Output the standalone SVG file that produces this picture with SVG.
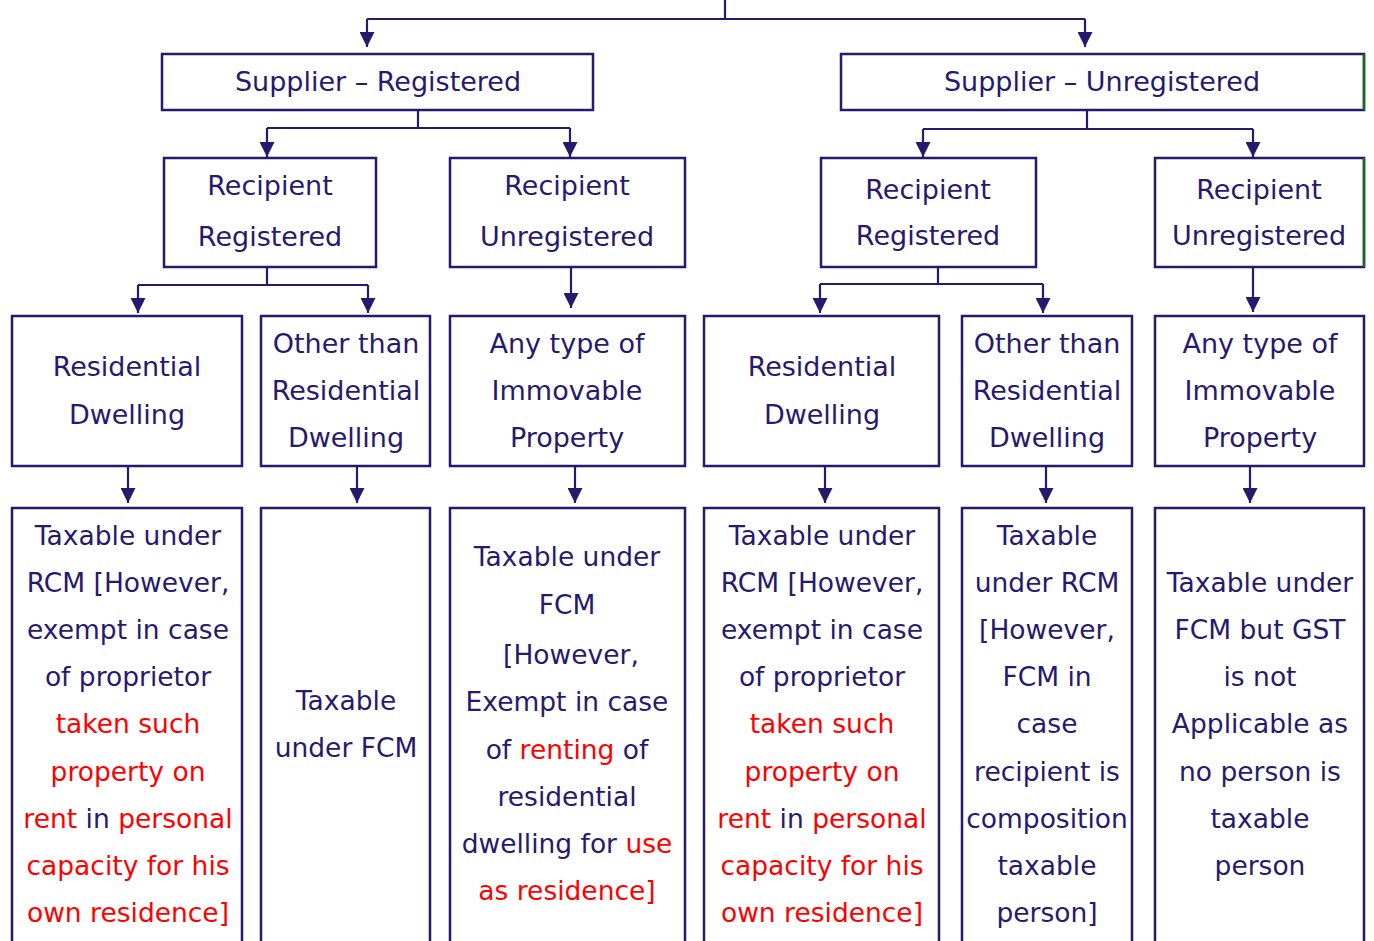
<svg xmlns="http://www.w3.org/2000/svg" width="1374" height="941" viewBox="0 0 1374 941">
<style>
.box{fill:#ffffff;stroke:#271a6e;stroke-width:2.5}
.ln{fill:none;stroke:#271a6e;stroke-width:2.2}
.t{font-family:"DejaVu Sans","Liberation Sans",sans-serif;font-size:27px;fill:#271a6e;text-anchor:middle}
.b{font-family:"DejaVu Sans","Liberation Sans",sans-serif;font-size:26.5px;fill:#271a6e;text-anchor:middle}
.r{fill:#ff0000}
.g{stroke:#1a6b1a;stroke-width:2.5}
</style>
<defs>
<marker id="ah" markerUnits="userSpaceOnUse" markerWidth="15" markerHeight="15" viewBox="0 0 15 15" refX="15" refY="7.5" orient="auto">
<path d="M0,0 L15,7.5 L0,15 z" fill="#271a6e"/>
</marker>
</defs>
<rect width="1374" height="941" fill="#ffffff"/>
<g id="connectors">
<path class="ln" d="M725,0 V19 M367,19 H1085"/>
<path class="ln" d="M367,19 V47" marker-end="url(#ah)"/>
<path class="ln" d="M1085,19 V47" marker-end="url(#ah)"/>
<path class="ln" d="M418,110 V128 M267,128 H570"/>
<path class="ln" d="M267,128 V157" marker-end="url(#ah)"/>
<path class="ln" d="M570,128 V157" marker-end="url(#ah)"/>
<path class="ln" d="M1087,110 V129 M923,129 H1253"/>
<path class="ln" d="M923,129 V157" marker-end="url(#ah)"/>
<path class="ln" d="M1253,129 V157" marker-end="url(#ah)"/>
<path class="ln" d="M267,267 V285 M138,285 H368"/>
<path class="ln" d="M138,285 V313" marker-end="url(#ah)"/>
<path class="ln" d="M368,285 V313" marker-end="url(#ah)"/>
<path class="ln" d="M571,267 V308" marker-end="url(#ah)"/>
<path class="ln" d="M938,267 V284 M820,284 H1043"/>
<path class="ln" d="M820,284 V313" marker-end="url(#ah)"/>
<path class="ln" d="M1043,284 V313" marker-end="url(#ah)"/>
<path class="ln" d="M1253,267 V312" marker-end="url(#ah)"/>
<path class="ln" d="M128,467 V503" marker-end="url(#ah)"/>
<path class="ln" d="M357,467 V503" marker-end="url(#ah)"/>
<path class="ln" d="M575,467 V503" marker-end="url(#ah)"/>
<path class="ln" d="M825,467 V503" marker-end="url(#ah)"/>
<path class="ln" d="M1046,467 V503" marker-end="url(#ah)"/>
<path class="ln" d="M1250,467 V503" marker-end="url(#ah)"/>
</g>
<g id="supplier-registered">
<rect class="box" x="162" y="54" width="431" height="56"/>
<text class="t" x="378" y="91">Supplier – Registered</text>
</g>
<g id="supplier-unregistered">
<rect class="box" x="841" y="54" width="523" height="56"/>
<line class="g" x1="1364" y1="54" x2="1364" y2="110"/>
<text class="t" x="1102" y="91">Supplier – Unregistered</text>
</g>
<g id="sr-recipient-registered">
<rect class="box" x="164" y="158" width="212" height="109"/>
<text class="t" x="270" y="195">Recipient</text>
<text class="t" x="270" y="246">Registered</text>
</g>
<g id="sr-recipient-unregistered">
<rect class="box" x="450" y="158" width="235" height="109"/>
<text class="t" x="567" y="195">Recipient</text>
<text class="t" x="567" y="246">Unregistered</text>
</g>
<g id="su-recipient-registered">
<rect class="box" x="821" y="158" width="215" height="109"/>
<text class="t" x="928" y="199">Recipient</text>
<text class="t" x="928" y="245">Registered</text>
</g>
<g id="su-recipient-unregistered">
<rect class="box" x="1155" y="158" width="209" height="109"/>
<line class="g" x1="1364" y1="158" x2="1364" y2="267"/>
<text class="t" x="1259" y="199">Recipient</text>
<text class="t" x="1259" y="245">Unregistered</text>
</g>
<g id="sr-rr-residential">
<rect class="box" x="12" y="316" width="230" height="150"/>
<text class="t" x="127" y="376">Residential</text>
<text class="t" x="127" y="424">Dwelling</text>
</g>
<g id="sr-rr-other">
<rect class="box" x="261" y="316" width="169" height="150"/>
<text class="t" x="346" y="353">Other than</text>
<text class="t" x="346" y="400">Residential</text>
<text class="t" x="346" y="447">Dwelling</text>
</g>
<g id="sr-ru-any">
<rect class="box" x="450" y="316" width="235" height="150"/>
<text class="t" x="567" y="353">Any type of</text>
<text class="t" x="567" y="400">Immovable</text>
<text class="t" x="567" y="447">Property</text>
</g>
<g id="su-rr-residential">
<rect class="box" x="704" y="316" width="235" height="150"/>
<text class="t" x="822" y="376">Residential</text>
<text class="t" x="822" y="424">Dwelling</text>
</g>
<g id="su-rr-other">
<rect class="box" x="962" y="316" width="170" height="150"/>
<text class="t" x="1047" y="353">Other than</text>
<text class="t" x="1047" y="400">Residential</text>
<text class="t" x="1047" y="447">Dwelling</text>
</g>
<g id="su-ru-any">
<rect class="box" x="1155" y="316" width="209" height="150"/>
<text class="t" x="1260" y="353">Any type of</text>
<text class="t" x="1260" y="400">Immovable</text>
<text class="t" x="1260" y="447">Property</text>
</g>
<g id="result-1">
<rect class="box" x="12" y="508" width="230" height="460"/>
<text class="b" x="128" y="545">Taxable under</text>
<text class="b" x="128" y="592">RCM [However,</text>
<text class="b" x="128" y="639">exempt in case</text>
<text class="b" x="128" y="686">of proprietor</text>
<text class="b r" x="128" y="733">taken such</text>
<text class="b r" x="128" y="781">property on</text>
<text class="b" x="128" y="828"><tspan class="r">rent</tspan> in <tspan class="r">personal</tspan></text>
<text class="b r" x="128" y="875">capacity for his</text>
<text class="b r" x="128" y="922">own residence]</text>
</g>
<g id="result-2">
<rect class="box" x="261" y="508" width="169" height="460"/>
<text class="b" x="346" y="710">Taxable</text>
<text class="b" x="346" y="757">under FCM</text>
</g>
<g id="result-3">
<rect class="box" x="450" y="508" width="235" height="460"/>
<text class="b" x="567" y="566">Taxable under</text>
<text class="b" x="567" y="614">FCM</text>
<text class="b" x="571" y="664">[However,</text>
<text class="b" x="567" y="711">Exempt in case</text>
<text class="b" x="567" y="759">of <tspan class="r">renting</tspan> of</text>
<text class="b" x="567" y="806">residential</text>
<text class="b" x="567" y="853">dwelling for <tspan class="r">use</tspan></text>
<text class="b r" x="567" y="900">as residence]</text>
</g>
<g id="result-4">
<rect class="box" x="704" y="508" width="235" height="460"/>
<text class="b" x="822" y="545">Taxable under</text>
<text class="b" x="822" y="592">RCM [However,</text>
<text class="b" x="822" y="639">exempt in case</text>
<text class="b" x="822" y="686">of proprietor</text>
<text class="b r" x="822" y="733">taken such</text>
<text class="b r" x="822" y="781">property on</text>
<text class="b" x="822" y="828"><tspan class="r">rent</tspan> in <tspan class="r">personal</tspan></text>
<text class="b r" x="822" y="875">capacity for his</text>
<text class="b r" x="822" y="922">own residence]</text>
</g>
<g id="result-5">
<rect class="box" x="962" y="508" width="170" height="460"/>
<text class="b" x="1047" y="545">Taxable</text>
<text class="b" x="1047" y="592">under RCM</text>
<text class="b" x="1047" y="639">[However,</text>
<text class="b" x="1047" y="686">FCM in</text>
<text class="b" x="1047" y="733">case</text>
<text class="b" x="1047" y="781">recipient is</text>
<text class="b" x="1047" y="828">composition</text>
<text class="b" x="1047" y="875">taxable</text>
<text class="b" x="1047" y="922">person]</text>
</g>
<g id="result-6">
<rect class="box" x="1155" y="508" width="209" height="460"/>
<text class="b" x="1260" y="592">Taxable under</text>
<text class="b" x="1260" y="639">FCM but GST</text>
<text class="b" x="1260" y="686">is not</text>
<text class="b" x="1260" y="733">Applicable as</text>
<text class="b" x="1260" y="781">no person is</text>
<text class="b" x="1260" y="828">taxable</text>
<text class="b" x="1260" y="875">person</text>
</g>
</svg>
